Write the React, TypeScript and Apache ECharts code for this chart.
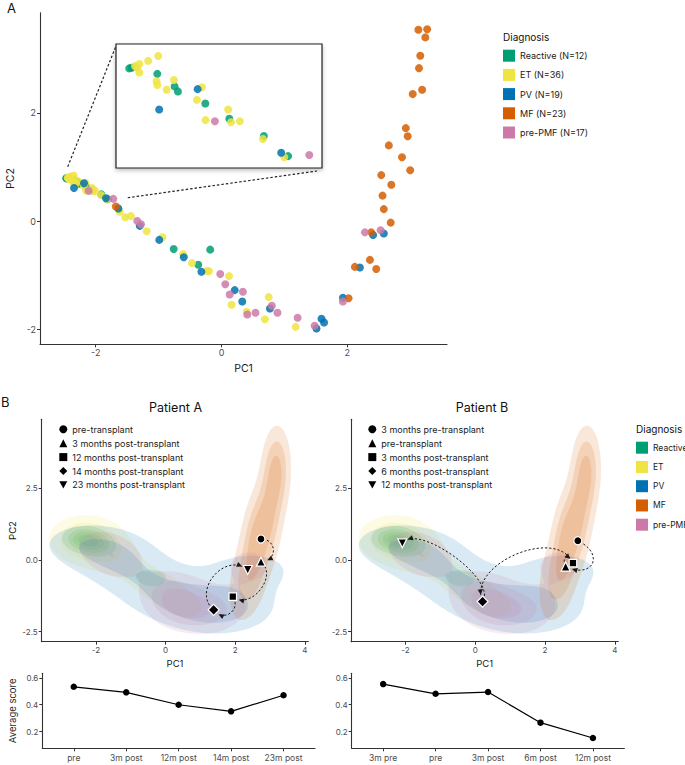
import React, { useEffect, useRef } from "react";
import * as echarts from "echarts";

const FONT = "Inter, 'Noto Sans', 'DejaVu Sans', sans-serif";

// ---------------- Data ----------------
const DIAGNOSES = ["Reactive", "ET", "PV", "MF", "pre-PMF"];
const DIAGNOSIS_N = [12, 36, 19, 23, 17];
const DIAGNOSIS_COLORS = ["#009E73", "#F0E442", "#0072B2", "#D55E00", "#CC79A7"];

// PCA coordinates (PC1, PC2) per diagnosis
const REACTIVE: [number, number][] = [
  [-2.47, 0.79], [-2.46, 0.793], [-2.353, 0.766], [-2.281, 0.711], [-2.267, 0.689],
  [-2.153, 0.636], [-2.053, 0.569], [-1.909, 0.493], [-1.808, 0.405],
  [-0.76, -0.52], [-0.18, -0.53], [-0.37, -0.81],
];
const ET: [number, number][] = [
  [-2.446, 0.8], [-2.428, 0.809], [-2.437, 0.794], [-2.428, 0.772], [-2.391, 0.823],
  [-2.349, 0.844], [-2.356, 0.733], [-2.353, 0.717], [-2.314, 0.696], [-2.284, 0.739],
  [-2.167, 0.707], [-2.188, 0.652], [-2.152, 0.563], [-2.058, 0.61], [-2.046, 0.554],
  [-2.009, 0.558], [-1.913, 0.48], [-1.824, 0.4],
  [-1.62, 0.17], [-1.53, 0.07], [-1.44, 0.09], [-1.19, -0.19], [-0.94, -0.3],
  [-0.61, -0.61], [-0.47, -0.78], [-0.23, -0.92], [-0.2, -0.93], [0.12, -1.02],
  [0.16, -1.55], [0.75, -1.41], [0.4, -1.68], [0.69, -1.82], [1.18, -1.96],
];
const PV: [number, number][] = [
  [-2.345, 0.61], [-2.185, 0.699], [-1.837, 0.42], [-1.64, 0.23], [-1.3, -0.09],
  [-0.99, -0.35], [-0.6, -0.67], [-0.32, -0.94], [0.21, -1.28], [0.33, -1.49],
  [0.77, -1.62], [1.51, -1.99], [1.59, -1.81], [1.63, -1.88], [1.93, -1.42],
  [2.41, -0.26], [2.58, -0.23], [2.2, -0.86],
];
const MF: [number, number][] = [
  [-1.68, 0.27], [3.13, 3.54], [3.27, 3.55], [3.24, 3.4], [3.16, 3.06], [3.14, 2.83],
  [3.19, 2.43], [3.04, 2.35], [2.93, 1.72], [2.96, 1.57], [2.66, 1.4], [2.87, 1.18],
  [3.0, 0.94], [2.54, 0.85], [2.7, 0.67], [2.56, 0.47], [2.58, 0.22], [2.69, -0.03],
  [2.38, -0.21], [2.36, -0.72], [2.12, -0.85], [2.46, -0.89], [2.02, -1.43],
];
const PRE_PMF: [number, number][] = [
  [-2.113, 0.558], [-1.72, 0.41], [-1.34, 0.0], [-1.28, -0.06], [-0.02, -0.98],
  [0.06, -1.17], [0.13, -1.36], [0.34, -1.31], [0.8, -1.57], [0.89, -1.7],
  [0.41, -1.73], [0.54, -1.7], [1.21, -1.79], [1.48, -1.94], [1.93, -1.49],
  [2.28, -0.21], [2.53, -0.17],
];
const GROUPS = [REACTIVE, ET, PV, MF, PRE_PMF];

// Patient trajectories
const PATIENT_A_LABELS = [
  "pre-transplant", "3 months post-transplant", "12 months post-transplant",
  "14 months post-transplant", "23 months post-transplant",
];
const PATIENT_A_PC1 = [2.74, 2.74, 1.93, 1.38, 2.36];
const PATIENT_A_PC2 = [0.73, -0.06, -1.28, -1.74, -0.35];

const PATIENT_B_LABELS = [
  "3 months pre-transplant", "pre-transplant", "3 months post-transplant",
  "6 months post-transplant", "12 months post-transplant",
];
const PATIENT_B_PC1 = [2.94, 2.59, 2.8, 0.21, -2.09];
const PATIENT_B_PC2 = [0.67, -0.23, -0.11, -1.45, 0.58];

// Average scores
const SCORE_A_LABELS = ["pre", "3m post", "12m post", "14m post", "23m post"];
const SCORE_A = [0.533, 0.492, 0.4, 0.351, 0.47];
const SCORE_B_LABELS = ["3m pre", "pre", "3m post", "6m post", "12m post"];
const SCORE_B = [0.553, 0.481, 0.494, 0.267, 0.153];

// Tick values
const TOP_X_TICKS = [-2, 0, 2];
const TOP_Y_TICKS = [-2, 0, 2];
const PANEL_X_TICKS = [-2, 0, 2, 4];
const PANEL_Y_TICKS = [-2.5, 0, 2.5];
const SCORE_Y_TICKS = [0.2, 0.4, 0.6];

// ---------------- Styles / layout ----------------
const TOP_X: [number, number] = [-2.886, 3.585];
const TOP_Y: [number, number] = [-2.283, 3.857];
const INSET_X: [number, number] = [-2.525, -1.667];
const INSET_Y: [number, number] = [0.353, 0.897];
const INSET_LINK_FROM: [number, number][] = [[-2.445, 1.006], [-1.491, 0.431]];
const PANEL_X: [number, number] = [-3.56, 4.1];
const PANEL_Y: [number, number] = [-2.85, 4.906];
const SCORE_X: [number, number] = [0.4, 5.6];
const SCORE_Y: [number, number] = [0.077, 0.633];

const TRI_DOWN = "path://M0,0L10,0L5,9Z";
const MARKER_SYMBOLS = ["circle", "triangle", "rect", "diamond", TRI_DOWN];
const MARKER_SIZES = [8, 9, 7.5, 11, 9];
// bulge / chord ratio (+ = curve to the left of travel direction)
const CURVE_A = [0.55, 0.38, 0.52, 0.42];
const CURVE_B = [0.8, 1.0, -0.31, -0.2];

const KDE_NX = 140;
const KDE_NY = 120;
// density contour levels (fraction of each group's peak density)
const LEVEL_FRACTIONS = [
  [0.2, 0.4, 0.6, 0.8], // Reactive
  [0.2, 0.45, 0.7], // ET
  [0.3, 0.65], // PV
  [0.2, 0.45, 0.7], // MF
  [0.2, 0.45, 0.7], // pre-PMF
];
const DENSITY_ALPHA = 0.15;

// ---------------- KDE (MASS::kde2d style) ----------------
function bandwidthNrd(v: number[]): number {
  const n = v.length;
  const mean = v.reduce((a, b) => a + b, 0) / n;
  const sd = Math.sqrt(v.reduce((a, b) => a + (b - mean) ** 2, 0) / (n - 1));
  const s = [...v].sort((a, b) => a - b);
  const q = (p: number) => {
    const h = (n - 1) * p;
    const lo = Math.floor(h);
    const hi = Math.min(lo + 1, n - 1);
    return s[lo] + (h - lo) * (s[hi] - s[lo]);
  };
  const iqr = q(0.75) - q(0.25);
  const spread = iqr > 0 ? Math.min(sd, iqr / 1.34) : sd;
  return 4 * 1.06 * spread * Math.pow(n, -0.2);
}

function kde(pts: [number, number][]) {
  const n = pts.length;
  const hx = bandwidthNrd(pts.map((p) => p[0])) / 4;
  const hy = bandwidthNrd(pts.map((p) => p[1])) / 4;
  const gx = Array.from({ length: KDE_NX + 1 }, (_, i) => PANEL_X[0] + ((PANEL_X[1] - PANEL_X[0]) * i) / KDE_NX);
  const gy = Array.from({ length: KDE_NY + 1 }, (_, j) => PANEL_Y[0] + ((PANEL_Y[1] - PANEL_Y[0]) * j) / KDE_NY);
  const c = 1 / Math.sqrt(2 * Math.PI);
  const ax = gx.map((x) => pts.map((p) => (c / hx) * Math.exp(-0.5 * ((x - p[0]) / hx) ** 2)));
  const ay = gy.map((y) => pts.map((p) => (c / hy) * Math.exp(-0.5 * ((y - p[1]) / hy) ** 2)));
  const z = new Float64Array((KDE_NX + 1) * (KDE_NY + 1));
  let max = 0;
  for (let j = 0; j <= KDE_NY; j++) {
    for (let i = 0; i <= KDE_NX; i++) {
      let s = 0;
      const a = ax[i], b = ay[j];
      for (let k = 0; k < n; k++) s += a[k] * b[k];
      s /= n;
      z[j * (KDE_NX + 1) + i] = s;
      if (s > max) max = s;
    }
  }
  return { gx, gy, z, max };
}

function bandPolys(gx: number[], gy: number[], z: Float64Array, t: number): number[][] {
  const W = KDE_NX + 1;
  const V = (i: number, j: number) => z[j * W + i];
  const polys: number[][] = [];
  for (let j = 0; j < KDE_NY; j++) {
    let runStart = -1;
    const flush = (end: number) => {
      if (runStart >= 0) {
        polys.push([gx[runStart], gy[j], gx[end], gy[j], gx[end], gy[j + 1], gx[runStart], gy[j + 1]]);
        runStart = -1;
      }
    };
    for (let i = 0; i < KDE_NX; i++) {
      const a = V(i, j), b = V(i + 1, j), c = V(i + 1, j + 1), d = V(i, j + 1);
      const inA = a >= t, inB = b >= t, inC = c >= t, inD = d >= t;
      if (inA && inB && inC && inD) {
        if (runStart < 0) runStart = i;
        continue;
      }
      flush(i);
      if (!(inA || inB || inC || inD)) continue;
      const corners: [number, number, number][] = [
        [gx[i], gy[j], a], [gx[i + 1], gy[j], b], [gx[i + 1], gy[j + 1], c], [gx[i], gy[j + 1], d],
      ];
      const poly: number[] = [];
      for (let k = 0; k < 4; k++) {
        const cur = corners[k], nxt = corners[(k + 1) % 4];
        const ci = cur[2] >= t, ni = nxt[2] >= t;
        if (ci) poly.push(cur[0], cur[1]);
        if (ci !== ni) {
          const f = (t - cur[2]) / (nxt[2] - cur[2]);
          poly.push(cur[0] + (nxt[0] - cur[0]) * f, cur[1] + (nxt[1] - cur[1]) * f);
        }
      }
      if (poly.length >= 6) polys.push(poly);
    }
    flush(KDE_NX);
  }
  return polys;
}

const CONTOURS: number[][][][] = GROUPS.map((pts, g) => {
  const { gx, gy, z, max } = kde(pts);
  return LEVEL_FRACTIONS[g].map((f) => bandPolys(gx, gy, z, f * max));
});

// ---------------- Curve helpers ----------------
type P2 = [number, number];
const lerp = (a: P2, b: P2, t: number): P2 => [a[0] + (b[0] - a[0]) * t, a[1] + (b[1] - a[1]) * t];
function splitCubic(p: P2[], t: number): [P2[], P2[]] {
  const p01 = lerp(p[0], p[1], t), p12 = lerp(p[1], p[2], t), p23 = lerp(p[2], p[3], t);
  const p012 = lerp(p01, p12, t), p123 = lerp(p12, p23, t);
  const m = lerp(p012, p123, t);
  return [[p[0], p01, p012, m], [m, p123, p23, p[3]]];
}
function cubicAt(p: P2[], t: number): P2 {
  const mt = 1 - t;
  const a = mt * mt * mt, b = 3 * mt * mt * t, c = 3 * mt * t * t, d = t * t * t;
  return [a * p[0][0] + b * p[1][0] + c * p[2][0] + d * p[3][0], a * p[0][1] + b * p[1][1] + c * p[2][1] + d * p[3][1]];
}

function makeArrowRenderer(curv: number[]) {
  return (params: any, api: any) => {
    const p0 = api.coord([api.value(0), api.value(1)]) as P2;
    const p3 = api.coord([api.value(2), api.value(3)]) as P2;
    const dx = p3[0] - p0[0], dy = p3[1] - p0[1];
    const L = Math.hypot(dx, dy) || 1;
    const hx = dx / L, hy = dy / L;
    const nx = hy, ny = -hx; // left normal in screen space
    const d = (curv[params.dataIndex] * L) / 0.75;
    const P: P2[] = [p0, [p0[0] + nx * d, p0[1] + ny * d], [p3[0] + nx * d, p3[1] + ny * d], p3];
    const N = 200;
    const cum: number[] = [0];
    let prev = P[0];
    for (let k = 1; k <= N; k++) {
      const q = cubicAt(P, k / N);
      cum.push(cum[k - 1] + Math.hypot(q[0] - prev[0], q[1] - prev[1]));
      prev = q;
    }
    const total = cum[N];
    const trimS = Math.min(6, total * 0.25), trimE = Math.min(6.5, total * 0.25);
    let t0 = 0, t1 = 1;
    for (let k = 0; k <= N; k++) if (cum[k] >= trimS) { t0 = k / N; break; }
    for (let k = N; k >= 0; k--) if (total - cum[k] >= trimE) { t1 = k / N; break; }
    const right = splitCubic(P, t0)[1];
    const sub = splitCubic(right, (t1 - t0) / (1 - t0))[0];
    const tip = sub[3];
    let ux = tip[0] - sub[2][0], uy = tip[1] - sub[2][1];
    const ul = Math.hypot(ux, uy) || 1;
    ux /= ul; uy /= ul;
    const AL = 5.5, AW = 2.6;
    const base: P2 = [tip[0] - ux * AL, tip[1] - uy * AL];
    return {
      type: "group",
      children: [
        {
          type: "bezierCurve",
          shape: {
            x1: sub[0][0], y1: sub[0][1], cpx1: sub[1][0], cpy1: sub[1][1],
            cpx2: sub[2][0], cpy2: sub[2][1], x2: sub[3][0], y2: sub[3][1],
          },
          style: { stroke: "#1a1a1a", lineWidth: 1, lineDash: [2.2, 2], fill: null },
        },
        {
          type: "polygon",
          shape: { points: [tip, [base[0] - uy * AW, base[1] + ux * AW], [base[0] + uy * AW, base[1] - ux * AW]] },
          style: { fill: "#1a1a1a" },
        },
      ],
    };
  };
}

// ---------------- Axis helper ----------------
function valueAxis(gridIndex: number, range: [number, number], ticks: number[], o: any = {}) {
  return {
    type: "value",
    gridIndex,
    min: range[0],
    max: range[1],
    axisLine: { show: true, onZero: false, lineStyle: { color: "#333", width: 1.1 } },
    axisTick: { show: true, length: 3, customValues: ticks, lineStyle: { color: "#333", width: 1 } },
    axisLabel: {
      show: true, customValues: ticks, color: "#4d4d4d", fontSize: o.labelSize ?? 8,
      margin: o.margin ?? 4, fontFamily: FONT, formatter: o.formatter,
    },
    splitLine: { show: false },
    name: o.name ?? "",
    nameLocation: "middle",
    nameGap: o.nameGap ?? 10,
    nameTextStyle: { fontSize: o.nameSize ?? 9.5, color: "#1a1a1a", fontFamily: FONT },
  };
}

export default function App() {
  const ref = useRef<HTMLDivElement>(null);

  useEffect(() => {
    if (!ref.current) return;
    const chart = echarts.init(ref.current, undefined, { renderer: "svg" });

    const topNames = DIAGNOSES.map((d, i) => `${d} (N=${DIAGNOSIS_N[i]})`);
    const series: any[] = [];

    // Panel A: main scatter + inset
    GROUPS.forEach((pts, g) => {
      series.push({
        type: "scatter", name: topNames[g], xAxisIndex: 0, yAxisIndex: 0, data: pts,
        symbolSize: 8, itemStyle: { color: DIAGNOSIS_COLORS[g], opacity: 0.85 }, z: 3, silent: true,
      });
    });
    GROUPS.forEach((pts, g) => {
      series.push({
        type: "scatter", name: topNames[g], xAxisIndex: 1, yAxisIndex: 1,
        data: pts.filter((p) => p[0] >= INSET_X[0] && p[0] <= INSET_X[1] && p[1] >= INSET_Y[0] && p[1] <= INSET_Y[1]),
        symbolSize: 8, itemStyle: { color: DIAGNOSIS_COLORS[g], opacity: 0.85 }, z: 5, silent: true,
      });
    });

    // Panel B: densities, arrows, markers
    const patients = [
      { axis: 2, labels: PATIENT_A_LABELS, pc1: PATIENT_A_PC1, pc2: PATIENT_A_PC2, curv: CURVE_A },
      { axis: 3, labels: PATIENT_B_LABELS, pc1: PATIENT_B_PC1, pc2: PATIENT_B_PC2, curv: CURVE_B },
    ];
    patients.forEach((pt) => {
      GROUPS.forEach((_, g) => {
        series.push({
          type: "custom", name: DIAGNOSES[g], xAxisIndex: pt.axis, yAxisIndex: pt.axis,
          color: DIAGNOSIS_COLORS[g], itemStyle: { color: DIAGNOSIS_COLORS[g] },
          data: LEVEL_FRACTIONS[g].map((_f, i) => [i]), clip: true, silent: true, z: 1,
          renderItem: (params: any, api: any) => {
            const polys = CONTOURS[g][params.dataIndex];
            let d = "";
            for (const poly of polys) {
              for (let k = 0; k < poly.length; k += 2) {
                const q = api.coord([poly[k], poly[k + 1]]);
                d += (k === 0 ? "M" : "L") + q[0].toFixed(2) + " " + q[1].toFixed(2);
              }
              d += "Z";
            }
            return {
              type: "path",
              shape: { pathData: d },
              style: { fill: DIAGNOSIS_COLORS[g], opacity: DENSITY_ALPHA, stroke: null },
            };
          },
        });
      });
      series.push({
        type: "custom", name: "arrows", xAxisIndex: pt.axis, yAxisIndex: pt.axis, silent: true, z: 4,
        data: pt.pc1.slice(0, -1).map((_, i) => [pt.pc1[i], pt.pc2[i], pt.pc1[i + 1], pt.pc2[i + 1]]),
        renderItem: makeArrowRenderer(pt.curv),
      });
      pt.labels.forEach((label, i) => {
        series.push({
          type: "scatter", name: label, xAxisIndex: pt.axis, yAxisIndex: pt.axis,
          data: [[pt.pc1[i], pt.pc2[i]]], symbol: MARKER_SYMBOLS[i], symbolSize: MARKER_SIZES[i],
          itemStyle: { color: "#000", borderColor: "#fff", borderWidth: 1.2, opacity: 1 }, z: 6, silent: true,
        });
      });
    });

    // Score lines
    [SCORE_A, SCORE_B].forEach((vals, k) => {
      series.push({
        type: "line", name: k === 0 ? "scoreA" : "scoreB", xAxisIndex: 4 + k, yAxisIndex: 4 + k,
        data: vals.map((v, i) => [i + 1, v]), symbol: "circle", symbolSize: 6.5,
        lineStyle: { color: "#000", width: 1.2 }, itemStyle: { color: "#000" }, silent: true,
      });
    });

    const legendText = { fontSize: 9, color: "#1a1a1a", fontFamily: FONT };
    const markerLegend = (labels: string[], left: number) => ({
      orient: "vertical", left, top: 424.3, itemWidth: 8, itemHeight: 8, itemGap: 3.9, padding: 0,
      selectedMode: false, textStyle: { ...legendText, lineHeight: 10 },
      itemStyle: { borderWidth: 0 },
      data: labels.map((n, i) => ({ name: n, icon: MARKER_SYMBOLS[i] })),
    });

    const option: any = {
      animation: false,
      backgroundColor: "#fff",
      textStyle: { fontFamily: FONT },
      grid: [
        { left: 40, top: 12.7, width: 407, height: 331.6, outerBoundsMode: "none" },
        {
          left: 116, top: 44, width: 206, height: 124, show: true, backgroundColor: "#fff",
          borderColor: "#222", borderWidth: 1.2, shadowColor: "rgba(0,0,0,0.25)", shadowBlur: 4,
          shadowOffsetY: 2, outerBoundsMode: "none",
        },
        { left: 41.7, top: 419.3, width: 266.6, height: 222.4, outerBoundsMode: "none" },
        { left: 351, top: 419.3, width: 267.3, height: 222.4, outerBoundsMode: "none" },
        { left: 42.3, top: 673.3, width: 272.7, height: 75, outerBoundsMode: "none" },
        { left: 351.7, top: 673.3, width: 272.7, height: 75, outerBoundsMode: "none" },
      ],
      xAxis: [
        valueAxis(0, TOP_X, TOP_X_TICKS, { name: "PC1", nameGap: 19, labelSize: 9, nameSize: 10.5 }),
        { ...valueAxis(1, INSET_X, []), show: false },
        valueAxis(2, PANEL_X, PANEL_X_TICKS, { name: "PC1", nameGap: 17 }),
        valueAxis(3, PANEL_X, PANEL_X_TICKS, { name: "PC1", nameGap: 17 }),
        valueAxis(4, SCORE_X, [1, 2, 3, 4, 5], {
          labelSize: 8.5, margin: 5, formatter: (v: number) => SCORE_A_LABELS[Math.round(v) - 1] ?? "",
        }),
        valueAxis(5, SCORE_X, [1, 2, 3, 4, 5], {
          labelSize: 8.5, margin: 5, formatter: (v: number) => SCORE_B_LABELS[Math.round(v) - 1] ?? "",
        }),
      ],
      yAxis: [
        valueAxis(0, TOP_Y, TOP_Y_TICKS, { name: "PC2", nameGap: 18, labelSize: 9, nameSize: 10.5 }),
        { ...valueAxis(1, INSET_Y, []), show: false },
        valueAxis(2, PANEL_Y, PANEL_Y_TICKS, { name: "PC2", nameGap: 24, formatter: (v: number) => v.toFixed(1) }),
        valueAxis(3, PANEL_Y, PANEL_Y_TICKS, { formatter: (v: number) => v.toFixed(1) }),
        valueAxis(4, SCORE_Y, SCORE_Y_TICKS, { name: "Average score", nameGap: 24.5, formatter: (v: number) => v.toFixed(1) }),
        valueAxis(5, SCORE_Y, SCORE_Y_TICKS, { formatter: (v: number) => v.toFixed(1) }),
      ],
      legend: [
        {
          orient: "vertical", left: 503, top: 49.7, itemWidth: 12, itemHeight: 12, itemGap: 7.2, padding: 0,
          icon: "rect", selectedMode: false, textStyle: legendText, itemStyle: { opacity: 1 },
          data: topNames,
        },
        {
          orient: "vertical", left: 636, top: 441.7, itemWidth: 12, itemHeight: 12, itemGap: 7.25, padding: 0,
          icon: "rect", selectedMode: false, textStyle: { ...legendText, fontSize: 8.5 }, itemStyle: { opacity: 1 },
          data: DIAGNOSES,
        },
        markerLegend(PATIENT_A_LABELS, 59.3),
        markerLegend(PATIENT_B_LABELS, 368.3),
      ],
      series,
    };
    chart.setOption(option);

    const a0 = chart.convertToPixel({ gridIndex: 0 } as any, INSET_LINK_FROM[0]) as number[];
    const a1 = chart.convertToPixel({ gridIndex: 0 } as any, INSET_LINK_FROM[1]) as number[];
    const b0 = chart.convertToPixel({ gridIndex: 1 } as any, [INSET_X[0], INSET_Y[1]]) as number[];
    const b1 = chart.convertToPixel({ gridIndex: 1 } as any, [INSET_X[1], INSET_Y[0]]) as number[];
    const lineStyle = { stroke: "#222", lineWidth: 1.2, lineDash: [2.5, 2] };
    const txt = (text: string, x: number, y: number, fontSize: number, align = "left", fill = "#111") => ({
      type: "text", x, y, silent: true,
      style: { text, fontSize, fill, fontFamily: FONT, align, verticalAlign: "middle" },
    });
    chart.setOption({
      graphic: [
        { type: "line", silent: true, shape: { x1: a0[0], y1: a0[1], x2: b0[0], y2: b0[1] + 2 }, style: lineStyle },
        { type: "line", silent: true, shape: { x1: a1[0], y1: a1[1], x2: b1[0] - 5, y2: b1[1] + 3 }, style: lineStyle },
        txt("A", 7, 8, 13),
        txt("B", 1, 402, 13),
        txt("Diagnosis", 503, 37, 10),
        txt("Diagnosis", 636, 428.7, 10),
        txt("Patient A", 175.5, 407, 12.5, "center"),
        txt("Patient B", 482, 407, 12.5, "center"),
      ],
    });

    return () => chart.dispose();
  }, []);

  return (
    <div
      ref={ref}
      style={{ position: "absolute", left: 0, top: 0, width: 685, height: 765, background: "#fff" }}
    />
  );
}
